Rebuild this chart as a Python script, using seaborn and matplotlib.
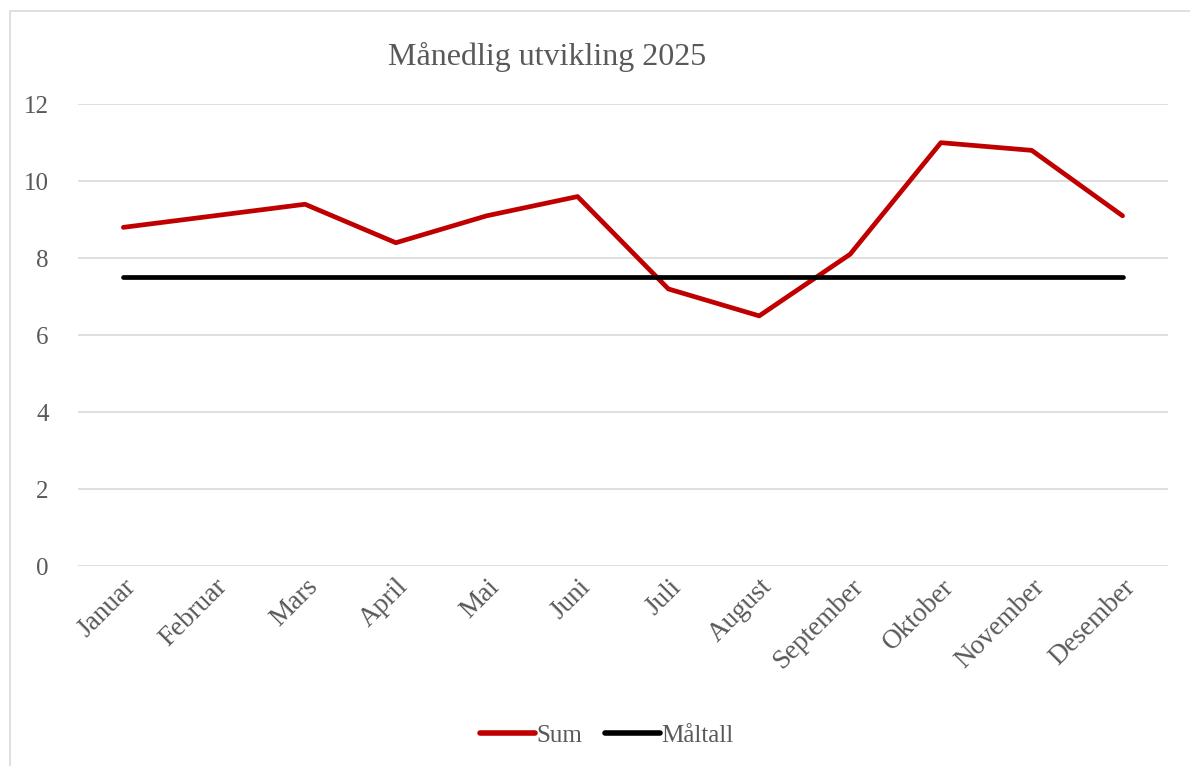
import matplotlib.pyplot as plt
import matplotlib.patches as mpatches
import pandas as pd
import seaborn as sns

# data
months = ['Januar', 'Februar', 'Mars', 'April', 'Mai', 'Juni', 'Juli',
          'August', 'September', 'Oktober', 'November', 'Desember']
sum_values = [8.8, 9.1, 9.4, 8.4, 9.1, 9.6, 7.2, 6.5, 8.1, 11.0, 10.8, 9.1]
target_values = [7.5] * 12

df = pd.DataFrame({
    'month': months * 2,
    'value': sum_values + target_values,
    'serie': ['Sum'] * 12 + ['Måltall'] * 12,
})

sns.set_style('white')
plt.rcParams['font.family'] = ['Liberation Serif', 'DejaVu Serif']

fig = plt.figure(figsize=(11.9, 7.66), dpi=100)
ax = fig.add_axes([0.0655, 0.261, 0.916, 0.603])

sns.lineplot(data=df, x='month', y='value', hue='serie', sort=False,
             palette={'Sum': '#C00000', 'Måltall': '#000000'},
             linewidth=3.4, ax=ax, legend=False)
for line in ax.lines:
    line.set_solid_capstyle('round')
    line.set_solid_joinstyle('round')

ax.set_xlim(-0.5, 11.5)
ax.set_ylim(0, 12)
ax.set_yticks(range(0, 13, 2))
ax.grid(axis='y', color='#D9D9D9', linewidth=1.2)
ax.set_axisbelow(True)
for s in ax.spines.values():
    s.set_visible(False)
ax.set_xlabel('')
ax.set_ylabel('')
ax.tick_params(axis='y', length=0, labelsize=18, labelcolor='#595959', pad=21)
ax.tick_params(axis='x', length=0, labelsize=19.5, labelcolor='#595959', pad=6)
plt.setp(ax.get_xticklabels(), rotation=45, ha='right', rotation_mode='anchor')

fig.text(0.46, 0.926, 'Månedlig utvikling 2025', ha='center', va='center',
         fontsize=23, color='#595959')

handles = [plt.Line2D([], [], color='#C00000', lw=4, solid_capstyle='round'),
           plt.Line2D([], [], color='#000000', lw=4, solid_capstyle='round')]
fig.legend(handles, ['Sum', 'Måltall'], loc='center', bbox_to_anchor=(0.51, 0.04),
           ncol=2, frameon=False, fontsize=18, labelcolor='#595959',
           handlelength=2.2, handletextpad=0.05, columnspacing=0.9)

fig.patches.append(mpatches.Rectangle((0.008, -0.01), 1.0, 0.995, transform=fig.transFigure,
                                      fill=False, edgecolor='#D9D9D9', linewidth=1.2))

fig.savefig('out.png', dpi=100, facecolor='white')
